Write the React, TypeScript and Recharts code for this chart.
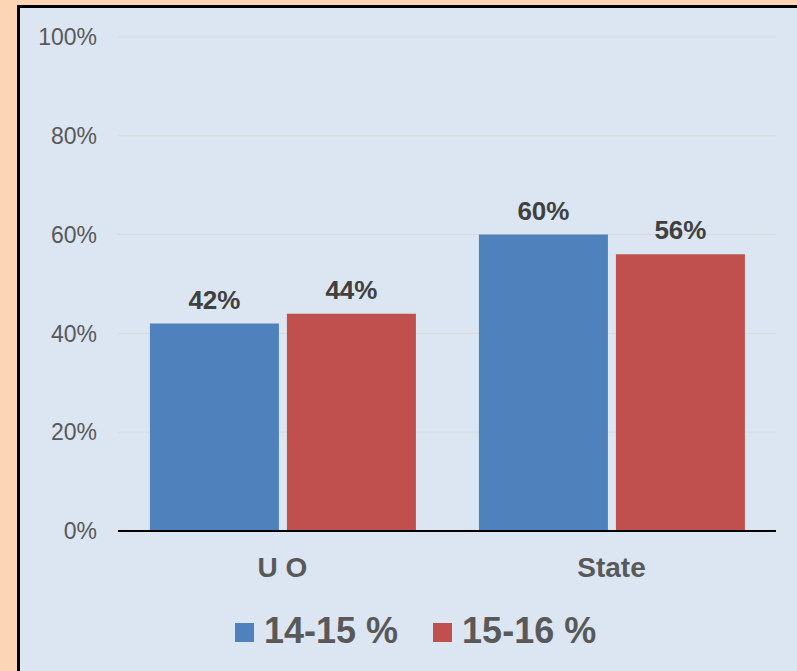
import { BarChart, Bar, XAxis, YAxis, CartesianGrid, Legend, LabelList } from "recharts";

const FONT = "'Liberation Sans', Arial, sans-serif";

const categories = ["U O", "State"];
const series1415 = [42, 60];
const series1516 = [44, 56];
const yTicks = [0, 20, 40, 60, 80, 100];

const SERIES = [
  { key: "s1", name: "14-15 %", color: "#4F81BD", values: series1415 },
  { key: "s2", name: "15-16 %", color: "#C0504D", values: series1516 },
];

const data = categories.map((c, i) => ({
  name: c,
  s1: series1415[i],
  s2: series1516[i],
}));

function LegendBox() {
  return (
    <div style={{ display: "flex", height: 36, fontFamily: FONT }}>
      {SERIES.map((s, i) => (
        <div
          key={s.key}
          style={{ display: "flex", alignItems: "flex-start", marginLeft: i === 0 ? 0 : 35 }}
        >
          <span
            style={{ width: 19, height: 19, background: s.color, marginTop: 10, marginRight: 10 }}
          />
          <span
            style={{ fontSize: 36, lineHeight: "36px", fontWeight: "bold", color: "#595959", whiteSpace: "nowrap" }}
          >
            {s.name}
          </span>
        </div>
      ))}
    </div>
  );
}

export default function App() {
  return (
    <div
      style={{
        position: "absolute",
        left: 0,
        top: 0,
        width: 797,
        height: 671,
        background: "#FCD5B4",
        overflow: "hidden",
      }}
    >
      <div
        style={{
          position: "absolute",
          left: 17,
          top: 5,
          right: 0,
          bottom: 0,
          borderLeft: "3px solid #000",
          borderTop: "3px solid #000",
          background: "#DCE6F2",
        }}
      />
      <div style={{ position: "absolute", left: 0, top: 0 }}>
        <BarChart
          width={797}
          height={671}
          data={data}
          margin={{ top: 37, right: 21, bottom: 22, left: 0 }}
          barCategoryGap="9.7%"
          barGap={8}
        >
          <CartesianGrid vertical={false} stroke="#D9D9D9" strokeWidth={1} />
          <XAxis
            dataKey="name"
            height={82}
            tickSize={0}
            tickMargin={26}
            axisLine={{ stroke: "#000", strokeWidth: 2 }}
            tickLine={false}
            tick={{ fontSize: 28, fontWeight: "bold", fill: "#595959", fontFamily: FONT }}
          />
          <YAxis
            width={118}
            domain={[0, 100]}
            ticks={yTicks}
            tickFormatter={(v) => `${v}%`}
            axisLine={false}
            tickLine={false}
            tickSize={0}
            tickMargin={21}
            tick={{ fontSize: 23, fill: "#595959", fontFamily: FONT }}
          />
          <Legend
            content={() => <LegendBox />}
            wrapperStyle={{ left: 235, bottom: 22, width: 420 }}
          />
          {SERIES.map((s) => (
            <Bar key={s.key} dataKey={s.key} name={s.name} fill={s.color} isAnimationActive={false}>
              <LabelList
                dataKey={s.key}
                position="top"
                offset={15}
                formatter={(v: number) => `${v}%`}
                style={{ fontSize: 26, fontWeight: "bold", fill: "#404040", fontFamily: FONT }}
              />
            </Bar>
          ))}
        </BarChart>
      </div>
    </div>
  );
}
